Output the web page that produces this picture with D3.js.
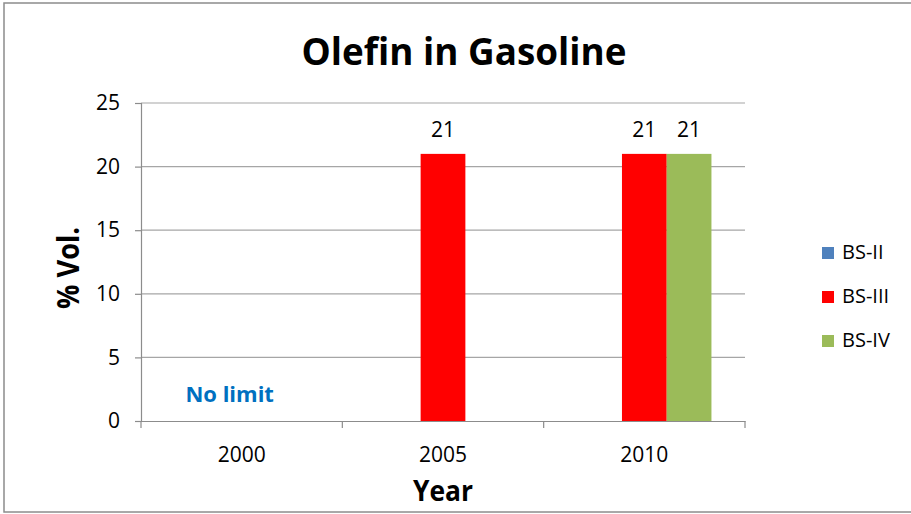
<!DOCTYPE html>
<html>
<head>
<meta charset="utf-8">
<script src="https://cdn.jsdelivr.net/npm/d3@7"></script>
<style>
  html, body { margin: 0; padding: 0; background: #fff; }
  svg { display: block; }
  text { font-family: "Open Sans", Lato, "DejaVu Sans", sans-serif; fill: #000; }
</style>
</head>
<body>
<svg id="chart" width="911" height="514"></svg>
<script>
// Olefin limit (% vol.) in gasoline by fuel standard and year
const categories = ["2000", "2005", "2010"];
const seriesNames = ["BS-II", "BS-III", "BS-IV"];
const bsII  = [null, null, null];
const bsIII = [null, 21, 21];
const bsIV  = [null, null, 21];
const seriesColors = ["#4F81BD", "#FF0000", "#9BBB59"];
const yTicks = [0, 5, 10, 15, 20, 25];
const noteText = "No limit";

const seriesValues = [bsII, bsIII, bsIV];

const svg = d3.select("#chart");
const W = 911, H = 514;

// outer chart frame
svg.append("rect")
  .attr("x", 4).attr("y", 3)
  .attr("width", W + 10).attr("height", 509)
  .attr("fill", "#fff").attr("stroke", "#8c8c8c").attr("stroke-width", 1.5);

const plot = { left: 141, right: 745, top: 103, bottom: 421 };

const x = d3.scaleBand().domain(categories).range([plot.left, plot.right]).paddingInner(0).paddingOuter(0);
const xInner = d3.scaleBand().domain(seriesNames).range([0, x.bandwidth()]).paddingInner(0).paddingOuter(0.75);
const y = d3.scaleLinear().domain([0, 25]).range([plot.bottom, plot.top]);

// horizontal gridlines
svg.append("g").selectAll("line").data(yTicks.filter(d => d > 0)).join("line")
  .attr("x1", plot.left).attr("x2", plot.right)
  .attr("y1", d => y(d)).attr("y2", d => y(d))
  .attr("stroke", "#a6a6a6").attr("stroke-width", 1.2);

// y axis
const yAxis = svg.append("g").attr("transform", `translate(${plot.left},0)`)
  .call(d3.axisLeft(y).tickValues(yTicks).tickSize(6).tickPadding(15));
yAxis.select(".domain").attr("stroke", "#8c8c8c").attr("stroke-width", 1.2);
yAxis.selectAll(".tick line").attr("stroke", "#8c8c8c").attr("stroke-width", 1.2);
yAxis.selectAll(".tick text").style("font-size", "21px").attr("fill", "#000");

// x axis
const xAxis = svg.append("g").attr("transform", `translate(0,${plot.bottom})`)
  .call(d3.axisBottom(x).tickSize(0).tickPadding(26));
xAxis.select(".domain").attr("stroke", "#8c8c8c").attr("stroke-width", 1.2);
xAxis.selectAll(".tick text").style("font-size", "21px").attr("fill", "#000");
// category separators
svg.append("g").selectAll("line").data([...categories.map(c => x(c)), plot.right]).join("line")
  .attr("x1", d => d).attr("x2", d => d)
  .attr("y1", plot.bottom).attr("y2", plot.bottom + 7)
  .attr("stroke", "#8c8c8c").attr("stroke-width", 1.2);

// bars
const barData = [];
categories.forEach((c, i) => {
  seriesNames.forEach((s, j) => {
    const v = seriesValues[j][i];
    if (v != null) barData.push({ c, s, v, color: seriesColors[j] });
  });
});
svg.append("g").selectAll("rect").data(barData).join("rect")
  .attr("x", d => x(d.c) + xInner(d.s))
  .attr("width", xInner.bandwidth())
  .attr("y", d => y(d.v))
  .attr("height", d => y(0) - y(d.v))
  .attr("fill", d => d.color);

// value labels
svg.append("g").selectAll("text").data(barData).join("text")
  .attr("x", d => x(d.c) + xInner(d.s) + xInner.bandwidth() / 2)
  .attr("y", d => y(d.v) - 16.5)
  .attr("text-anchor", "middle")
  .style("font-size", "21px")
  .text(d => d.v);

// note for the first year
svg.append("text")
  .attr("x", x("2000") + x.bandwidth() / 2 - 12)
  .attr("y", 402)
  .attr("text-anchor", "middle")
  .style("font-size", "22px").style("font-weight", "bold")
  .style("fill", "#0070C0")
  .text(noteText);

// title
svg.append("text")
  .attr("x", 464).attr("y", 65)
  .attr("text-anchor", "middle")
  .attr("textLength", 325).attr("lengthAdjust", "spacingAndGlyphs")
  .style("font-size", "37px").style("font-weight", "bold")
  .text("Olefin in Gasoline");

// axis titles
svg.append("text")
  .attr("transform", "translate(79,268) rotate(-90)")
  .attr("text-anchor", "middle")
  .attr("textLength", 82).attr("lengthAdjust", "spacingAndGlyphs")
  .style("font-size", "31px").style("font-weight", "bold")
  .text("% Vol.");
svg.append("text")
  .attr("x", 443).attr("y", 501)
  .attr("text-anchor", "middle")
  .attr("textLength", 60).attr("lengthAdjust", "spacingAndGlyphs")
  .style("font-size", "29px").style("font-weight", "bold")
  .text("Year");

// legend
const legend = svg.append("g").selectAll("g").data(seriesNames).join("g")
  .attr("transform", (d, i) => `translate(822,${253 + i * 44})`);
legend.append("rect")
  .attr("x", 0).attr("y", -6).attr("width", 12).attr("height", 12)
  .attr("fill", (d, i) => seriesColors[i]);
legend.append("text")
  .attr("x", 20).attr("y", 6)
  .style("font-size", "20px")
  .text(d => d);
</script>
</body>
</html>
